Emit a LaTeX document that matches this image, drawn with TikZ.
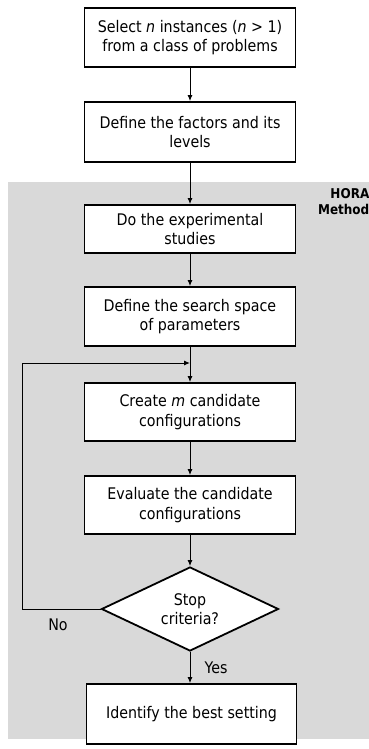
\documentclass[tikz,border=0pt]{standalone}
\usepackage{fontspec}
\setmainfont[FakeStretch=0.89]{DejaVu Sans}
\usetikzlibrary{shapes.geometric,arrows.meta}
\definecolor{horagray}{HTML}{D9D9D9}

\begin{document}
\begin{tikzpicture}[x=1pt,y=-1pt,
  txt/.style={font=\fontsize{16}{19.5}\selectfont},
  stepbox/.style={txt, draw, line width=1.8pt, fill=white, minimum width=211pt,
    align=center, inner sep=2pt},
  decision/.style={txt, diamond, draw, line width=1.8pt, fill=white, aspect=2.1,
    minimum width=177pt, minimum height=84pt, inner sep=0pt, align=center},
  flow/.style={-{Latex[length=6pt,width=5pt]}, line width=1pt},
]
\useasboundingbox (0,0) rectangle (369,749);

% shaded area holding the HORA steps
\fill[horagray] (8,182) rectangle (369,739);
\node[anchor=north east, align=right, inner sep=0pt,
      font=\bfseries\fontsize{13.5}{16.5}\selectfont] (hora) at (369.5,188) {HORA\\Method};

% process steps
\node[stepbox, minimum height=59pt] (select) at (190,37.5)
  {Select \textit{n} instances (\textit{n} > 1)\\from a class of problems};
\node[stepbox, minimum height=60pt] (factors) at (190,132)
  {Define the factors and its\\levels};
\node[stepbox, minimum height=48pt] (studies) at (190,229)
  {Do the experimental\\studies};
\node[stepbox, minimum height=59pt] (space) at (190,316.5)
  {Define the search space\\of parameters};
\node[stepbox, minimum height=58pt] (create) at (190,412)
  {Create \textit{m} candidate\\configurations};
\node[stepbox, minimum height=58pt] (evaluate) at (190,505)
  {Evaluate the candidate\\configurations};
\node[decision] (stop) at (190,609) {Stop\\criteria?};
\node[stepbox, minimum width=210pt, minimum height=60pt] (best) at (191.5,714)
  {Identify the best setting};

% connectors
\draw[flow] (select) -- (factors);
\draw[flow] (factors) -- (studies);
\draw[flow] (studies) -- (space);
\draw[flow] (space) -- (create);
\draw[flow] (create) -- (evaluate);
\draw[flow] (evaluate) -- (stop);
\draw[flow] (stop.south) -- (stop.south |- best.north);

% loop back for another round
\coordinate (loopcorner) at (22,363);
\coordinate (loopin) at (190,363);
\draw[flow] (stop.west) -| (loopcorner) -- (loopin);

\node[txt] (no) at (58,625) {No};
\node[txt] (yes) at (216,668) {Yes};
\end{tikzpicture}
\end{document}
